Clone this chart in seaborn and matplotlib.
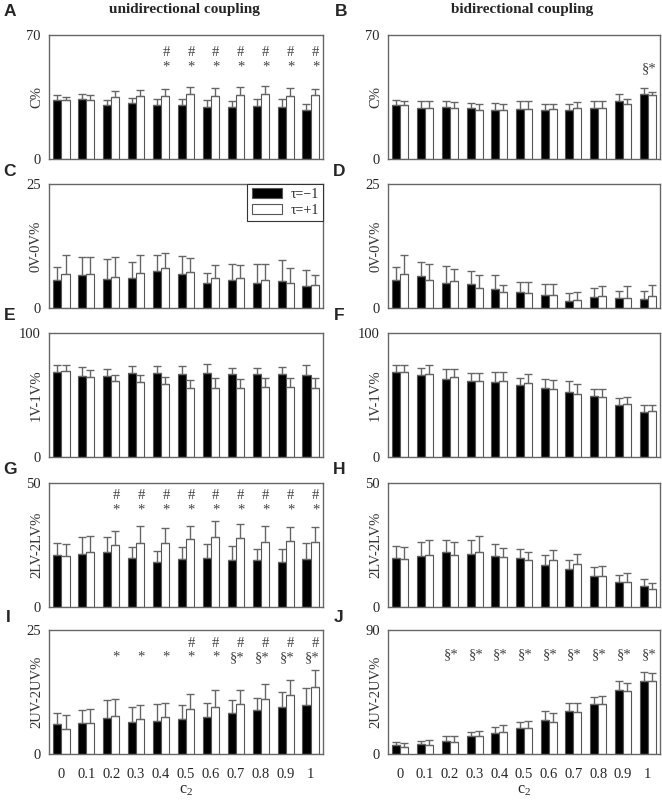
import numpy as np
import pandas as pd
import matplotlib
matplotlib.use('Agg')
import matplotlib.pyplot as plt
import seaborn as sns

c2 = ['0', '0.1', '0.2', '0.3', '0.4', '0.5', '0.6', '0.7', '0.8', '0.9', '1']
tau_labels = ['τ=−1', 'τ=+1']

# A: C%, unidirectional  (bar height and top of error bar)
A_neg = [33.4, 33.8, 30.6, 31.5, 30.6, 30.6, 29.6, 29.3, 30.0, 29.6, 27.8]
A_neg_hi = [36.2, 36.8, 33.4, 34.3, 33.8, 34.1, 33.4, 32.8, 33.8, 33.8, 31.0]
A_pos = [33.4, 33.4, 34.9, 35.3, 35.6, 36.6, 35.8, 36.0, 36.6, 35.6, 36.0]
A_pos_hi = [34.9, 36.4, 38.3, 38.8, 39.4, 40.5, 40.3, 40.5, 41.3, 39.8, 39.4]
A_top = ['', '', '', '', '#', '#', '#', '#', '#', '#', '#']
A_bot = ['', '', '', '', '*', '*', '*', '*', '*', '*', '*']

# B: C%, bidirectional
B_neg = [30.4, 29.0, 29.4, 28.8, 27.4, 28.4, 27.4, 27.8, 29.0, 32.5, 36.9]
B_neg_hi = [33.5, 32.5, 32.5, 31.4, 31.4, 32.5, 30.8, 30.8, 32.9, 36.9, 40.2]
B_pos = [30.4, 28.8, 28.8, 27.4, 27.8, 28.4, 28.0, 29.0, 29.0, 31.0, 35.9]
B_pos_hi = [32.5, 32.5, 32.0, 30.8, 31.0, 32.5, 31.2, 32.0, 32.5, 33.9, 37.9]
B_bot = ['', '', '', '', '', '', '', '', '', '', '§*']

# C: 0V-0V%, unidirectional
C_neg = [5.7, 6.7, 5.9, 6.1, 7.4, 6.9, 5.1, 5.6, 5.1, 5.5, 4.5]
C_neg_hi = [8.2, 10.2, 9.8, 9.2, 10.6, 10.5, 7.1, 8.9, 8.9, 9.6, 7.7]
C_pos = [6.8, 6.9, 6.3, 7.1, 8.0, 7.2, 6.0, 6.0, 5.6, 5.0, 4.6]
C_pos_hi = [10.6, 10.2, 10.2, 10.6, 11.1, 10.1, 8.7, 8.6, 8.9, 8.0, 6.7]

# D: 0V-0V%, bidirectional
D_neg = [5.7, 6.5, 5.1, 4.8, 3.8, 3.2, 2.6, 1.5, 2.2, 2.0, 1.9]
D_neg_hi = [8.2, 9.2, 8.4, 7.4, 6.7, 5.3, 4.9, 3.0, 4.0, 3.4, 3.5]
D_pos = [6.8, 5.6, 5.4, 4.0, 3.2, 3.1, 2.6, 1.7, 2.4, 2.0, 2.5]
D_pos_hi = [10.6, 8.8, 7.8, 6.6, 4.6, 5.2, 4.9, 3.3, 4.4, 4.4, 4.6]

# E: 1V-1V%, unidirectional
E_neg = [68.5, 65.6, 65.0, 67.5, 67.7, 66.7, 68.0, 67.2, 67.2, 66.7, 66.4]
E_neg_hi = [74.5, 72.8, 71.2, 73.4, 73.7, 73.1, 75.0, 72.0, 71.8, 72.8, 74.5]
E_pos = [69.1, 64.5, 61.0, 60.2, 58.6, 55.9, 55.9, 55.9, 56.7, 56.5, 55.4]
E_pos_hi = [73.9, 70.4, 65.9, 66.4, 64.8, 61.8, 63.7, 62.6, 63.7, 63.4, 63.4]

# F: 1V-1V%, bidirectional
F_neg = [68.5, 65.9, 63.2, 61.3, 60.5, 58.3, 55.9, 52.2, 49.2, 41.7, 36.3]
F_neg_hi = [74.2, 72.0, 71.0, 67.5, 68.3, 63.7, 62.9, 61.0, 55.1, 47.8, 42.2]
F_pos = [68.8, 66.7, 64.5, 61.3, 61.0, 59.4, 55.1, 50.5, 48.7, 42.5, 36.8]
F_pos_hi = [74.2, 74.5, 71.2, 68.0, 68.5, 67.2, 62.4, 58.9, 55.1, 48.1, 42.2]

# G: 2LV-2LV%, unidirectional
G_neg = [20.9, 21.5, 22.0, 19.9, 18.3, 19.5, 19.8, 19.0, 18.8, 18.3, 19.4]
G_neg_hi = [26.0, 28.2, 28.2, 24.3, 22.6, 24.1, 25.6, 24.5, 23.4, 23.2, 26.0]
G_pos = [20.5, 22.2, 25.2, 25.7, 25.9, 27.4, 28.2, 27.8, 26.4, 26.6, 26.3]
G_pos_hi = [25.5, 28.5, 30.6, 32.8, 31.7, 32.5, 34.8, 33.5, 32.5, 32.1, 32.2]
G_top = ['', '', '#', '#', '#', '#', '#', '#', '#', '#', '#']
G_bot = ['', '', '*', '*', '*', '*', '*', '*', '*', '*', '*']

# H: 2LV-2LV%, bidirectional
H_neg = [19.9, 20.7, 22.1, 21.5, 20.5, 19.6, 17.1, 15.3, 12.5, 10.0, 8.4]
H_neg_hi = [24.4, 26.3, 27.2, 27.2, 25.5, 23.3, 20.9, 19.0, 16.1, 13.1, 11.1]
H_pos = [19.5, 20.9, 21.0, 22.2, 20.3, 18.8, 18.8, 17.2, 12.5, 9.9, 7.2]
H_pos_hi = [24.0, 27.0, 26.4, 28.5, 23.8, 22.0, 23.0, 21.3, 16.5, 13.6, 9.8]

# I: 2UV-2UV%, unidirectional
I_neg = [6.0, 6.2, 7.2, 6.5, 6.7, 7.0, 7.4, 8.3, 8.9, 9.5, 9.9]
I_neg_hi = [8.3, 8.8, 10.9, 9.5, 10.0, 9.8, 10.3, 10.9, 11.3, 12.6, 13.3]
I_pos = [5.0, 6.2, 7.6, 7.1, 7.4, 9.0, 9.5, 10.1, 11.1, 11.9, 13.5]
I_pos_hi = [7.8, 9.0, 11.1, 9.9, 10.3, 12.1, 12.9, 13.0, 14.2, 14.9, 17.0]
I_top = ['', '', '', '', '', '#', '#', '#', '#', '#', '#']
I_bot = ['', '', '*', '*', '*', '*', '*', '§*', '§*', '§*', '§*']

# J: 2UV-2UV%, bidirectional
J_neg = [6.3, 7.2, 9.4, 12.8, 15.4, 19.1, 24.6, 30.9, 36.2, 46.3, 53.3]
J_neg_hi = [8.4, 9.7, 13.0, 15.7, 19.3, 22.9, 31.4, 37.2, 41.3, 52.8, 59.4]
J_pos = [5.3, 6.5, 8.9, 12.8, 15.9, 19.1, 23.4, 30.4, 36.2, 45.4, 53.3]
J_pos_hi = [7.7, 9.9, 12.8, 16.4, 21.0, 24.1, 29.7, 36.7, 42.0, 51.4, 59.1]
J_bot = ['', '', '§*', '§*', '§*', '§*', '§*', '§*', '§*', '§*', '§*']

sns.set_style('white')
plt.rcParams['font.family'] = ['Liberation Serif', 'DejaVu Serif']
plt.rcParams['mathtext.fontset'] = 'custom'
plt.rcParams['mathtext.rm'] = 'Liberation Serif'
plt.rcParams['mathtext.it'] = 'Liberation Serif:italic'

FS = 10.5
W, H = 662, 801
fig = plt.figure(figsize=(W / 100, H / 100), dpi=100)


def make_ax(x0, x1, top, h=124):
    return fig.add_axes([x0 / W, 1 - (top + h) / H, (x1 - x0) / W, h / H])


def panel(ax, neg, neg_hi, pos, pos_hi, ymax, ylabel,
          top=None, bot=None, top_y=None, bot_y=None, bottom=False):
    df = pd.DataFrame({'c2': c2 * 2,
                       'tau': [tau_labels[0]] * len(c2) + [tau_labels[1]] * len(c2),
                       'val': neg + pos})
    sns.barplot(data=df, x='c2', y='val', hue='tau', order=c2,
                hue_order=tau_labels, palette=['black', 'white'],
                saturation=1, width=0.65, edgecolor='#555555', linewidth=0.8,
                errorbar=None, legend=False, ax=ax)
    bars = list(ax.containers[:2])
    for cont, hi in zip(bars, [neg_hi, pos_hi]):
        xs = [b.get_x() + b.get_width() / 2 for b in cont]
        hs = np.array([b.get_height() for b in cont])
        up = np.array(hi) - hs
        ax.errorbar(xs, hs, yerr=[np.zeros(len(hs)), up], fmt='none',
                    ecolor='#666666', elinewidth=1, capsize=3.2, capthick=1)
    ax.set_xlim(-0.5, len(c2) - 0.5)
    ax.set_ylim(0, ymax)
    ax.set_yticks([0, ymax])
    ax.tick_params(axis='both', length=0, labelsize=FS, pad=6)
    for s in ax.spines.values():
        s.set_visible(True)
        s.set_color('#666666')
        s.set_linewidth(1)
    ax.set_ylabel(ylabel, fontsize=FS, color='#333333')
    ax.yaxis.set_label_coords(-0.022, 0.5)
    if bottom:
        ax.tick_params(axis='x', pad=10)
        ax.set_xlabel(r'$\mathrm{c}_\mathrm{2}$', fontsize=FS + 1, labelpad=1)
    else:
        ax.set_xticklabels([])
        ax.set_xlabel('')
    if top is not None:
        for i, s in enumerate(top):
            if s:
                ax.text(i + 0.2, top_y * ymax, '#', ha='center', va='center',
                        fontsize=FS, color='#444444')
    if bot is not None:
        for i, s in enumerate(bot):
            if s == '§*':
                ax.text(i + 0.05, bot_y * ymax, s, ha='center', va='center',
                        fontsize=FS, color='#444444')
            elif s:
                ax.text(i + 0.2, bot_y * ymax, s, ha='center', va='center',
                        fontsize=FS, color='#444444')
    return bars


LX0, LX1 = 49, 323
RX0, RX1 = 388, 660
tops = [35, 184, 333, 483, 630]

axA = make_ax(LX0, LX1, tops[0])
axB = make_ax(RX0, RX1, tops[0])
axC = make_ax(LX0, LX1, tops[1])
axD = make_ax(RX0, RX1, tops[1])
axE = make_ax(LX0, LX1, tops[2])
axF = make_ax(RX0, RX1, tops[2])
axG = make_ax(LX0, LX1, tops[3])
axH = make_ax(RX0, RX1, tops[3])
axI = make_ax(LX0, LX1, tops[4])
axJ = make_ax(RX0, RX1, tops[4])

panel(axA, A_neg, A_neg_hi, A_pos, A_pos_hi, 70, 'C%', A_top, A_bot, 0.86, 0.74)
panel(axB, B_neg, B_neg_hi, B_pos, B_pos_hi, 70, 'C%', None, B_bot, None, 0.73)
barsC = panel(axC, C_neg, C_neg_hi, C_pos, C_pos_hi, 25, '0V-0V%')
panel(axD, D_neg, D_neg_hi, D_pos, D_pos_hi, 25, '0V-0V%')
panel(axE, E_neg, E_neg_hi, E_pos, E_pos_hi, 100, '1V-1V%')
panel(axF, F_neg, F_neg_hi, F_pos, F_pos_hi, 100, '1V-1V%')
panel(axG, G_neg, G_neg_hi, G_pos, G_pos_hi, 50, '2LV-2LV%', G_top, G_bot, 0.9, 0.78)
panel(axH, H_neg, H_neg_hi, H_pos, H_pos_hi, 50, '2LV-2LV%')
panel(axI, I_neg, I_neg_hi, I_pos, I_pos_hi, 25, '2UV-2UV%', I_top, I_bot, 0.89, 0.78, bottom=True)
panel(axJ, J_neg, J_neg_hi, J_pos, J_pos_hi, 90, '2UV-2UV%', None, J_bot, None, 0.8, bottom=True)

leg = axC.legend(barsC, tau_labels, loc='upper right', borderaxespad=0,
                 fancybox=False, framealpha=1, edgecolor='#333333',
                 fontsize=FS - 0.5, handlelength=2.2, handleheight=0.75,
                 borderpad=0.3, labelspacing=0.2, handletextpad=0.6)
leg.get_frame().set_linewidth(0.8)

fig.text(184 / W, 1 - 10 / H, 'unidirectional coupling', ha='center', va='center',
         fontsize=FS + 0.5, fontweight='bold')
fig.text(522 / W, 1 - 10 / H, 'bidirectional coupling', ha='center', va='center',
         fontsize=FS + 0.5, fontweight='bold')

letters = [('A', 10, 12), ('B', 341, 12), ('C', 10, 171), ('D', 339, 171),
           ('E', 10, 315), ('F', 339, 315), ('G', 10, 469), ('H', 339, 469),
           ('I', 8, 617), ('J', 339, 617)]
for t, x, y in letters:
    fig.text(x / W, 1 - y / H, t, ha='center', va='center', fontsize=FS + 2,
             fontweight='bold', family=['Liberation Sans', 'DejaVu Sans'])

fig.savefig('out.png', dpi=100)
